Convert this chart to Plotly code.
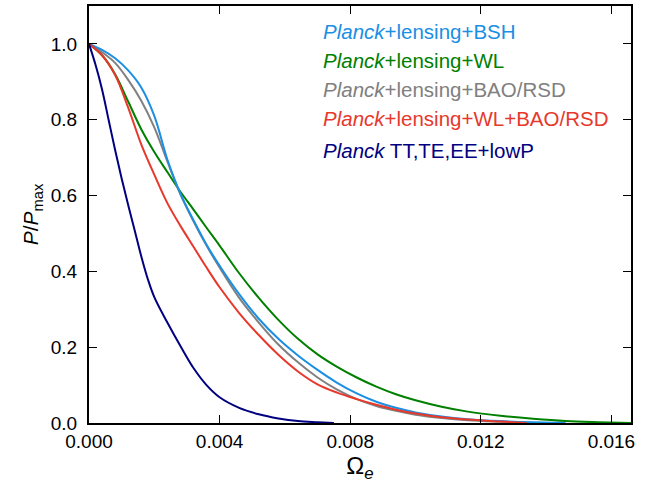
import plotly.graph_objects as go

# Data
bsh_x = [0, 0.0004, 0.0008, 0.0012, 0.0016, 0.002, 0.0024, 0.0028, 0.0032, 0.0036, 0.004,
         0.0046, 0.0052, 0.0058, 0.0064, 0.007, 0.0076, 0.0082, 0.0088, 0.0094, 0.01,
         0.0108, 0.0116, 0.0126, 0.0136, 0.0146]
bsh_y = [1.0, 0.984, 0.962, 0.93, 0.885, 0.81, 0.695, 0.605, 0.535, 0.47, 0.415,
         0.34, 0.275, 0.222, 0.178, 0.14, 0.106, 0.078, 0.056, 0.04, 0.028,
         0.017, 0.01, 0.005, 0.002, 0.0]

wl_x = [0, 0.0004, 0.0008, 0.0012, 0.0016, 0.002, 0.0024, 0.0028, 0.0032, 0.0036, 0.004,
        0.0046, 0.0052, 0.0058, 0.0064, 0.007, 0.0076, 0.0082, 0.0088, 0.0094, 0.01,
        0.0108, 0.0116, 0.0126, 0.0136, 0.0146, 0.0156, 0.0166]
wl_y = [1.0, 0.97, 0.92, 0.848, 0.775, 0.715, 0.662, 0.61, 0.563, 0.515, 0.468,
        0.395, 0.33, 0.272, 0.222, 0.181, 0.148, 0.12, 0.096, 0.076, 0.06,
        0.043, 0.03, 0.019, 0.011, 0.005, 0.002, 0.0]

bao_x = [0, 0.0004, 0.0008, 0.0012, 0.0016, 0.002, 0.0024, 0.0028, 0.0032, 0.0036, 0.004,
         0.0046, 0.0052, 0.0058, 0.0064, 0.007, 0.0076, 0.0082, 0.0088, 0.0094, 0.01,
         0.0108, 0.0116, 0.0126, 0.0136]
bao_y = [1.0, 0.978, 0.95, 0.905, 0.85, 0.78, 0.69, 0.603, 0.532, 0.468, 0.41,
         0.33, 0.265, 0.207, 0.16, 0.12, 0.088, 0.063, 0.045, 0.032, 0.022,
         0.013, 0.007, 0.003, 0.0]

all_x = [0, 0.0004, 0.0008, 0.0012, 0.0016, 0.002, 0.0024, 0.0028, 0.0032, 0.0036, 0.004,
         0.0046, 0.0052, 0.0058, 0.0064, 0.007, 0.0076, 0.0082, 0.0088, 0.0094, 0.01,
         0.0108, 0.0116, 0.0126, 0.0134]
all_y = [1.0, 0.97, 0.918, 0.832, 0.735, 0.655, 0.58, 0.52, 0.465, 0.41, 0.358,
         0.29, 0.232, 0.18, 0.136, 0.102, 0.08, 0.063, 0.048, 0.035, 0.025,
         0.015, 0.009, 0.004, 0.0]

tt_x = [0, 0.0002, 0.0004, 0.0006, 0.0008, 0.001, 0.0012, 0.0014, 0.0016, 0.0018, 0.002,
        0.0024, 0.0028, 0.0032, 0.0036, 0.004, 0.0046, 0.0052, 0.0058, 0.0064, 0.007, 0.0075]
tt_y = [1.0, 0.945, 0.88, 0.8, 0.72, 0.645, 0.575, 0.508, 0.44, 0.38, 0.332,
        0.265, 0.203, 0.145, 0.1, 0.068, 0.04, 0.023, 0.012, 0.005, 0.002, 0.0]

x_ticks = [0.0, 0.004, 0.008, 0.012, 0.016]
y_ticks = [0.0, 0.2, 0.4, 0.6, 0.8, 1.0]

labels = [
    "<i>Planck</i>+lensing+BSH",
    "<i>Planck</i>+lensing+WL",
    "<i>Planck</i>+lensing+BAO/RSD",
    "<i>Planck</i>+lensing+WL+BAO/RSD",
    "<i>Planck</i> TT,TE,EE+lowP",
]
colors = ["#1a8fe3", "#008000", "#808080", "#e8382c", "#000080"]
xs_all = [bsh_x, wl_x, bao_x, all_x, tt_x]
ys_all = [bsh_y, wl_y, bao_y, all_y, tt_y]

FONT = "Liberation Sans"
fig = go.Figure()
for i in [1, 2, 0, 3, 4]:
    fig.add_trace(go.Scatter(x=xs_all[i], y=ys_all[i], mode="lines", name=labels[i],
                             line=dict(color=colors[i], width=2, shape="spline", smoothing=1.0),
                             showlegend=False, hoverinfo="skip"))

# legend-like coloured labels (pixel positions converted to axis-domain fractions)
L, R, T, B = 89, 631, 4, 423
ypix = [29.7, 58.5, 87.5, 117.5, 148.7]
for lab, col, yp in zip(labels, colors, ypix):
    fig.add_annotation(x=(321 - L) / (R - L), y=(B - yp) / (B - T),
                       xref="x domain", yref="y domain", text=lab,
                       showarrow=False, font=dict(family=FONT, size=20.5, color=col),
                       xanchor="left", yanchor="middle")

fig.update_layout(
    width=658, height=495,
    margin=dict(l=L, r=658 - R, t=T, b=495 - B),
    paper_bgcolor="white", plot_bgcolor="white",
    font=dict(family=FONT, size=19, color="black"),
)
fig.update_xaxes(range=[0, 0.0166], tickvals=x_ticks, tickformat=".3f",
                 showline=True, linecolor="black", linewidth=2, mirror="ticks",
                 ticks="inside", ticklen=8, tickwidth=1, tickcolor="black",
                 showgrid=False, zeroline=False,
                 title=dict(text="Ω<sub><i>e</i></sub>", font=dict(size=24), standoff=4))
fig.update_yaxes(range=[0, 1.1], tickvals=y_ticks, tickformat=".1f",
                 showline=True, linecolor="black", linewidth=2, mirror="ticks",
                 ticks="inside", ticklen=8, tickwidth=1, tickcolor="black",
                 ticklabelstandoff=6,
                 showgrid=False, zeroline=False,
                 title=dict(text="<i>P</i>/<i>P</i><sub>max</sub>", font=dict(size=21), standoff=6))

fig.write_html("out.html", config={"displayModeBar": False},
               post_script="document.body.style.margin='0';document.body.style.overflow='hidden';")
